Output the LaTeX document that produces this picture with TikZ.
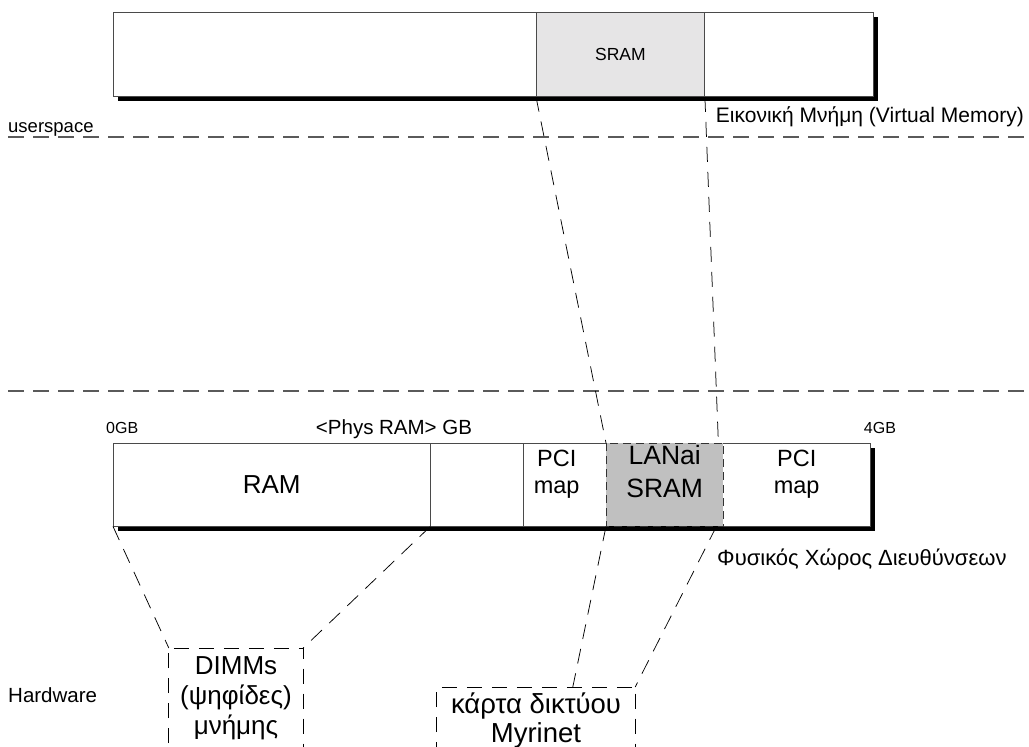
\documentclass[tikz,border=0pt]{standalone}
\usepackage{fontspec}
\setmainfont{Liberation Sans}
\usetikzlibrary{calc}

\definecolor{edgegray}{HTML}{4A4A4A}
\definecolor{sramlight}{HTML}{E6E5E6}
\definecolor{sramdark}{HTML}{C0C0C0}
\definecolor{sepgray}{HTML}{5A5A5A}

\tikzset{
  cell/.style={fill=white, draw=edgegray, line width=0.9pt, inner sep=0pt,
               anchor=north west, align=center},
  bare/.style={fill=white, inner sep=0pt, anchor=north west, align=center},
  barshadow/.style={fill=black},
  separator/.style={draw=sepgray, line width=1.3pt, dash pattern=on 16pt off 9pt},
  link/.style={draw=black, line width=0.75pt, dash pattern=on 15pt off 10pt},
  lanaiedge/.style={draw=black!80, line width=0.9pt, dash pattern=on 8pt off 5pt},
  bigtext/.style={font=\fontsize{26}{30}\selectfont},
  midtext/.style={font=\fontsize{23.5}{27}\selectfont},
  caption/.style={inner sep=0pt, font=\fontsize{21}{24}\selectfont},
  small/.style={inner sep=0pt, font=\fontsize{16}{19}\selectfont},
}

\begin{document}
\begin{tikzpicture}[x=1pt, y=-1pt]
  \useasboundingbox (0,0) rectangle (1029,747);
  \clip (0,0) rectangle (1029,747);

  % layer separators
  \draw[separator] (8,137) -- (1029,137);
  \draw[separator] (8,391) -- (1029,391);
  \node[caption, anchor=base west, font=\fontsize{18.5}{22}\selectfont] (user) at (8,132) {userspace};
  \node[caption, anchor=base west, font=\fontsize{20.5}{24}\selectfont] (hw) at (8,702) {Hardware};

  % virtual memory bar
  \fill[barshadow] (118,17) rectangle (878,101);
  \node[cell, minimum width=423pt, minimum height=84pt] (va) at (113,12) {};
  \node[cell, fill=sramlight, minimum width=168pt, minimum height=84pt,
        font=\fontsize{17.5}{20}\selectfont] (sramv) at (536,12) {SRAM};
  \node[cell, minimum width=169pt, minimum height=84pt] (vb) at (704,12) {};
  \node[caption, anchor=base east] (vmem) at (1024,122) {Εικονική Μνήμη (Virtual Memory)};

  % physical address space bar
  \fill[barshadow] (118,448) rectangle (875,531);
  \node[bare, minimum width=317pt, minimum height=83pt, bigtext] (ram) at (113,443) {RAM};
  \node[bare, minimum width=93pt, minimum height=83pt] (hole) at (430,443) {};
  \node[bare, minimum width=83pt, minimum height=83pt] (pcia) at (523,443) {};
  \node[bare, fill=sramdark, minimum width=117pt, minimum height=83pt] (lanai) at (606,443) {};
  \node[bare, minimum width=147pt, minimum height=83pt] (pcib) at (723,443) {};
  \draw[draw=edgegray, line width=0.9pt]
    (lanai.north west) -- (ram.north west) -- (ram.south west) -- (lanai.south west)
    (lanai.north east) -- (pcib.north east) -- (pcib.south east) -- (lanai.south east)
    (ram.north east) -- (ram.south east)
    (hole.north east) -- (hole.south east);
  \draw[lanaiedge] (lanai.north west) rectangle (lanai.south east);

  \node[midtext, align=center, inner sep=0pt] (pciat) at ($(pcia.center)+(-8,-10)$) {PCI\\map};
  \node[bigtext, align=center, inner sep=0pt, font=\fontsize{26.5}{33}\selectfont] (lanait) at ($(lanai.center)+(0,-13)$) {LANai\\SRAM};
  \node[midtext, align=center, inner sep=0pt] (pcibt) at ($(pcib.center)+(0,-10)$) {PCI\\map};

  \node[small, anchor=base west] (zero) at (106,433) {0GB};
  \node[small, anchor=base, font=\fontsize{20.5}{23}\selectfont] (phys) at (394,434) {<Phys RAM> GB};
  \node[small, anchor=base] (four) at (880,433) {4GB};
  \node[caption, anchor=base west, font=\fontsize{22}{25}\selectfont] (pspace) at (717,565) {Φυσικός Χώρος Διευθύνσεων};

  % hardware boxes
  \node[bigtext, align=center, inner xsep=0pt, inner ysep=8pt, minimum width=134pt,
        anchor=north] (dimm) at (236,648) {DIMMs\\(ψηφίδες)\\μνήμης};
  \node[bigtext, align=center, inner xsep=0pt, inner ysep=6pt, minimum width=198pt,
        anchor=north, font=\fontsize{27.5}{29}\selectfont] (myri) at (536,687) {κάρτα δικτύου\\Myrinet};
  \draw[link] ($(dimm.north west)+(0,120)$) -- (dimm.north west) -- (dimm.north east) -- ($(dimm.north east)+(0,120)$);
  \draw[link] ($(myri.north west)+(0,120)$) -- (myri.north west) -- (myri.north east) -- ($(myri.north east)+(0,120)$);

  % mappings between the layers
  \draw[link] (sramv.south west) -- (lanai.north west);
  \draw[link] (sramv.south east) -- ($(lanai.north east)+(-5,0)$);
  \draw[link] (lanai.south west) -- ($(myri.north west)+(136,0)$);
  \draw[link] ($(lanai.south east)+(-7,0)$) -- (myri.north east);
  \draw[link] (ram.south west) -- (dimm.north west);
  \draw[link] (ram.south east) -- (dimm.north east);
\end{tikzpicture}
\end{document}
